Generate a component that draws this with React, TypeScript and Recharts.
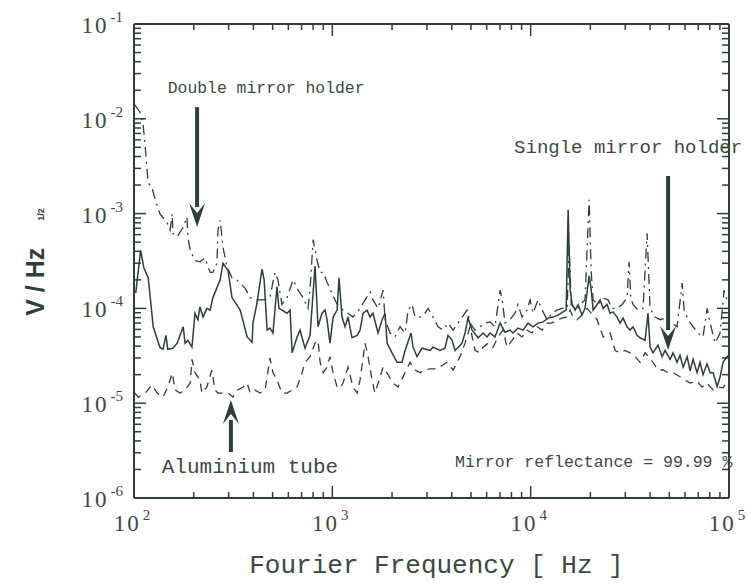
import { LineChart, Line, XAxis, YAxis, ReferenceLine, ReferenceDot } from "recharts"

const INK = "#2f3f33"
const TEXT = "#3a4a40"

// frequency axis ticks (Hz)
const xMajor = [100, 1000, 10000, 100000]
const xMinor = [
  200, 300, 400, 500, 600, 700, 800, 900,
  2000, 3000, 4000, 5000, 6000, 7000, 8000, 9000,
  20000, 30000, 40000, 50000, 60000, 70000, 80000, 90000,
]
// amplitude axis ticks (V/Hz^1/2)
const yMajor = [1e-6, 1e-5, 1e-4, 1e-3, 1e-2, 1e-1]
const yMinor = [
  2e-6, 3e-6, 4e-6, 5e-6, 6e-6, 7e-6, 8e-6, 9e-6,
  2e-5, 3e-5, 4e-5, 5e-5, 6e-5, 7e-5, 8e-5, 9e-5,
  2e-4, 3e-4, 4e-4, 5e-4, 6e-4, 7e-4, 8e-4, 9e-4,
  2e-3, 3e-3, 4e-3, 5e-3, 6e-3, 7e-3, 8e-3, 9e-3,
  2e-2, 3e-2, 4e-2, 5e-2, 6e-2, 7e-2, 8e-2, 9e-2,
]

// single mirror holder (solid)
const singleFreq = [
  102, 108, 112, 118, 125, 135, 140, 145, 148, 157, 165, 177, 181, 187, 196, 203, 210, 215, 223, 233,
  242, 250, 272, 281, 298, 312, 343, 372, 394, 398, 417, 442, 453, 469, 485, 502, 526, 538, 557, 591,
  612, 627, 664, 687, 728, 772, 818, 847, 887, 919, 940, 973, 1009, 1057, 1081, 1119, 1159, 1200, 1257, 1334,
  1380, 1429, 1496, 1549, 1603, 1700, 1782, 1845, 1888, 2000, 2120, 2246, 2327, 2494, 2553, 2673, 2833, 3110, 3221, 3491,
  3700, 3830, 4018, 4159, 4508, 4667, 4831, 5070, 5433, 5754, 6026, 6237, 6607, 7015, 7430, 7870, 8150, 8630, 9160, 9700,
  10280, 10890, 11560, 12250, 12970, 13740, 14560, 15100, 15450, 15810, 16180, 16750, 17340, 18160, 18800, 19710, 20180, 20650, 21630, 22390,
  23190, 24290, 25140, 26040, 27280, 28240, 29240, 30630, 31700, 32820, 34400, 35620, 37740, 39070, 39990, 41400, 43850, 46000, 47640, 50470,
  52240, 54700, 56620, 58750, 61500, 63680, 65920, 69020, 71450, 73960, 77450, 80340, 83180, 87100, 90190, 93330, 97720, 100000,
]
const singleVal = [
  1.45e-4, 4.1e-4, 2.7e-4, 2.1e-4, 6.4e-5, 3.9e-5, 3.7e-5, 5.2e-5, 3.7e-5, 3.8e-5, 4.3e-5, 6.4e-5, 4.3e-5, 4.6e-5, 3.9e-5, 8.9e-5, 7.6e-5, 1.04e-4, 8.1e-5, 1.0e-4,
  9.6e-5, 1.3e-4, 2.0e-4, 3.0e-4, 2.5e-4, 1.3e-4, 9.6e-5, 5.0e-5, 4.4e-5, 7.0e-5, 1.14e-4, 2.6e-4, 2.0e-4, 5.9e-5, 6.2e-5, 5.5e-5, 1.7e-4, 1.0e-4, 9.6e-5, 8.9e-5,
  9.6e-5, 3.4e-5, 5.0e-5, 5.9e-5, 3.8e-5, 5.2e-5, 2.8e-4, 6.4e-5, 8.9e-5, 9.6e-5, 7.6e-5, 4.3e-5, 8.1e-5, 9.6e-5, 2.1e-4, 8.1e-5, 6.4e-5, 8.1e-5, 4.9e-5, 5.2e-5,
  5.9e-5, 8.9e-5, 9.6e-5, 8.1e-5, 8.9e-5, 5.5e-5, 7.6e-5, 8.9e-5, 4.3e-5, 3.4e-5, 2.7e-5, 2.7e-5, 3.6e-5, 5.5e-5, 3.9e-5, 3.1e-5, 3.8e-5, 3.6e-5, 3.9e-5, 3.6e-5,
  3.8e-5, 5.2e-5, 4.6e-5, 3.6e-5, 4.3e-5, 5.5e-5, 7.9e-5, 5.9e-5, 4.9e-5, 5.5e-5, 5.0e-5, 5.5e-5, 5.0e-5, 7.0e-5, 5.6e-5, 5.9e-5, 5.5e-5, 6.2e-5, 5.9e-5, 7.0e-5,
  6.4e-5, 7.0e-5, 7.2e-5, 7.9e-5, 8.1e-5, 8.5e-5, 9.2e-5, 9.6e-5, 1.1e-3, 1.6e-4, 1.1e-4, 9.6e-5, 1.09e-4, 8.5e-5, 1.0e-4, 2.2e-4, 1.6e-4, 9.6e-5, 1.1e-4, 1.23e-4,
  1.0e-4, 1.1e-4, 8.9e-5, 9.2e-5, 8.1e-5, 7.0e-5, 7.9e-5, 6.4e-5, 5.9e-5, 6.4e-5, 5.2e-5, 4.9e-5, 4.6e-5, 8.9e-5, 3.9e-5, 3.4e-5, 4.1e-5, 3.1e-5, 3.6e-5, 2.9e-5,
  3.4e-5, 2.7e-5, 3.2e-5, 2.4e-5, 3.1e-5, 2.2e-5, 2.9e-5, 2.1e-5, 2.7e-5, 2.0e-5, 2.6e-5, 2.1e-5, 2.1e-5, 1.5e-5, 1.9e-5, 2.7e-5, 3.1e-5, 3.2e-5,
]

// double mirror holder (dash-dot)
const doubleFreq = [
  101, 107, 111, 114, 116, 118, 123, 128, 135, 147, 152, 156, 157, 165, 171, 177, 185, 187, 192, 203,
  215, 228, 242, 250, 262, 265, 272, 281, 295, 312, 330, 363, 385, 417, 447, 485, 513, 532, 557, 591,
  634, 672, 712, 754, 772, 800, 838, 868, 899, 940, 995, 1057, 1132, 1200, 1271, 1380, 1462, 1549, 1603, 1700,
  1803, 1845, 1954, 2070, 2194, 2327, 2410, 2523, 2612, 2767, 2931, 3040, 3221, 3412, 3614, 3830, 4064, 4775, 4946, 5248,
  5559, 5888, 6237, 6607, 7015, 7178, 7430, 7870, 8340, 8630, 9050, 9590, 9930, 10280, 10890, 11430, 12100, 12820, 13580, 14390,
  15280, 15630, 16000, 17140, 17750, 18800, 19710, 20180, 20650, 21880, 23190, 24550, 25700, 27280, 28900, 30630, 31330, 32000, 32820, 34800,
  36870, 38640, 39990, 42360, 44980, 47640, 51640, 54700, 58070, 59400, 62230, 65920, 69820, 73960, 77620, 80340, 85110, 90190, 94410, 97720,
  100000,
]
const doubleVal = [
  1.4e-2, 1.18e-2, 9.0e-3, 5.0e-3, 3.1e-3, 2.1e-3, 1.9e-3, 1.4e-3, 1.0e-3, 8.0e-4, 6.7e-4, 1.0e-3, 6.2e-4, 5.7e-4, 6.4e-4, 7.2e-4, 9.2e-4, 5.7e-4, 4.1e-4, 3.2e-4,
  3.1e-4, 3.4e-4, 2.4e-4, 2.4e-4, 3.0e-4, 6.7e-4, 8.5e-4, 4.4e-4, 2.7e-4, 2.1e-4, 2.0e-4, 1.64e-4, 1.3e-4, 1.23e-4, 1.23e-4, 1.3e-4, 2.4e-4, 2.0e-4, 1.1e-4, 1.3e-4,
  2.0e-4, 1.56e-4, 1.3e-4, 1.0e-4, 1.56e-4, 5.3e-4, 3.2e-4, 2.4e-4, 2.4e-4, 1.9e-4, 1.45e-4, 1.1e-4, 9.6e-5, 8.9e-5, 8.1e-5, 1.0e-4, 1.23e-4, 1.49e-4, 1.23e-4, 1.0e-4,
  1.56e-4, 7.6e-5, 5.5e-5, 5.0e-5, 6.4e-5, 5.5e-5, 9.6e-5, 1.1e-4, 8.1e-5, 8.1e-5, 8.9e-5, 1.0e-4, 8.1e-5, 6.4e-5, 5.9e-5, 7.0e-5, 5.9e-5, 9.6e-5, 7.0e-5, 5.9e-5,
  6.4e-5, 7.0e-5, 7.2e-5, 6.4e-5, 1.56e-4, 1.23e-4, 7.0e-5, 7.6e-5, 8.9e-5, 1.1e-4, 8.1e-5, 9.6e-5, 1.23e-4, 8.9e-5, 1.23e-4, 9.6e-5, 7.6e-5, 8.9e-5, 9.6e-5, 1.0e-4,
  1.0e-4, 4.7e-4, 1.1e-4, 9.6e-5, 1.1e-4, 1.23e-4, 1.4e-3, 2.5e-4, 1.23e-4, 1.1e-4, 1.29e-4, 1.23e-4, 1.0e-4, 1.0e-4, 1.1e-4, 1.3e-4, 3.1e-4, 1.3e-4, 1.1e-4, 9.6e-5,
  1.0e-4, 6.2e-4, 1.0e-4, 8.1e-5, 7.6e-5, 7.9e-5, 7.0e-5, 6.4e-5, 1.85e-4, 9.6e-5, 7.6e-5, 6.4e-5, 5.5e-5, 5.0e-5, 1.0e-4, 7.0e-5, 4.3e-5, 5.5e-5, 1.56e-4, 1.23e-4,
  1.4e-4,
]

// aluminium tube (dashed)
const tubeFreq = [
  101, 105, 114, 123, 131, 140, 148, 156, 161, 171, 181, 192, 196, 203, 215, 220, 233, 247, 256, 265,
  281, 298, 315, 334, 355, 372, 385, 407, 432, 458, 469, 485, 502, 526, 557, 591, 627, 664, 704, 728,
  772, 818, 847, 868, 899, 940, 973, 1009, 1057, 1094, 1132, 1200, 1271, 1334, 1380, 1462, 1514, 1585, 1641, 1742,
  1803, 1910, 2023, 2143, 2327, 2466, 2612, 2767, 2931, 3110, 3373, 3573, 3784, 4064, 4406, 4667, 4946, 5248, 5559, 5754,
  6095, 6457, 6850, 7260, 7600, 8054, 8530, 9050, 9590, 10160, 10770, 11430, 12100, 12820, 13580, 14390, 15280, 15810, 16370, 17140,
  17750, 18370, 19230, 21630, 23190, 25140, 26660, 28240, 29920, 31700, 33640, 35620, 37740, 39070, 41400, 43850, 46550, 49320, 52240, 56620,
  60100, 63680, 69020, 73120, 77450, 83180, 88100, 93330, 98800,
]
const tubeVal = [
  1.28e-5, 1.16e-5, 1.28e-5, 1.56e-5, 1.28e-5, 1.16e-5, 1.48e-5, 2.08e-5, 1.38e-5, 1.28e-5, 1.38e-5, 1.63e-5, 2.9e-5, 2.1e-5, 1.76e-5, 1.28e-5, 1.48e-5, 2.24e-5, 1.38e-5, 1.28e-5,
  1.28e-5, 1.28e-5, 1.16e-5, 1.38e-5, 1.48e-5, 1.63e-5, 1.28e-5, 1.38e-5, 1.28e-5, 1.38e-5, 1.9e-5, 3.0e-5, 2.1e-5, 1.76e-5, 1.28e-5, 1.28e-5, 1.38e-5, 1.48e-5, 2.1e-5, 2.7e-5,
  3.1e-5, 4.3e-5, 4.6e-5, 2.7e-5, 2.1e-5, 2.4e-5, 3.1e-5, 2.1e-5, 1.48e-5, 1.45e-5, 1.63e-5, 2.4e-5, 1.48e-5, 1.28e-5, 1.76e-5, 4.3e-5, 3.1e-5, 1.76e-5, 1.28e-5, 1.9e-5,
  2.4e-5, 2.0e-5, 1.63e-5, 1.48e-5, 2.1e-5, 2.7e-5, 2.24e-5, 2.1e-5, 2.24e-5, 2.3e-5, 2.3e-5, 2.5e-5, 2.7e-5, 2.24e-5, 3.1e-5, 4.3e-5, 6.4e-5, 3.6e-5, 3.4e-5, 3.9e-5,
  4.3e-5, 3.9e-5, 5.0e-5, 5.9e-5, 3.9e-5, 4.6e-5, 5.5e-5, 5.0e-5, 5.9e-5, 5.5e-5, 6.4e-5, 5.9e-5, 7.0e-5, 7.0e-5, 7.6e-5, 7.9e-5, 8.1e-5, 9.6e-5, 8.1e-5, 7.6e-5,
  8.1e-5, 8.9e-5, 1.0e-4, 7.6e-5, 5.0e-5, 5.5e-5, 3.6e-5, 3.4e-5, 3.6e-5, 3.4e-5, 3.1e-5, 2.7e-5, 3.4e-5, 3.1e-5, 2.7e-5, 2.24e-5, 2.24e-5, 2.1e-5, 2.1e-5, 1.9e-5,
  1.76e-5, 1.63e-5, 1.7e-5, 1.48e-5, 1.63e-5, 1.38e-5, 1.48e-5, 1.45e-5, 1.76e-5,
]

const toPoints = (fs: number[], vs: number[]) => fs.map((f, i) => ({ f, v: vs[i] }))
const singleData = toPoints(singleFreq, singleVal)
const doubleData = toPoints(doubleFreq, doubleVal)
const tubeData = toPoints(tubeFreq, tubeVal)

const xTicks = [...xMajor, ...xMinor].sort((a, b) => a - b)
const yTicks = [...yMajor, ...yMinor].sort((a, b) => a - b)

const isMajor = (v: number) => Math.abs(Math.log10(v) - Math.round(Math.log10(v))) < 1e-6
const expOf = (v: number) => Math.round(Math.log10(v))

const tickFont = "'Liberation Serif', serif"
const monoFont = "'Liberation Mono', monospace"

function BottomTick({ x, y, payload }: any) {
  const major = isMajor(payload.value)
  return (
    <g>
      <line x1={x} x2={x} y1={y} y2={y - (major ? 12 : 6)} stroke={INK} strokeWidth={1.5} />
      {major && (
        <text x={x - 2} y={y + 33} textAnchor="middle" fill={TEXT} fontFamily={tickFont} fontSize={23} letterSpacing={2}>
          10
          <tspan dx={2} dy={-11} fontSize={15} letterSpacing={0}>{expOf(payload.value)}</tspan>
        </text>
      )}
    </g>
  )
}

function TopTick({ x, y, payload }: any) {
  const major = isMajor(payload.value)
  return <line x1={x} x2={x} y1={y} y2={y + (major ? 12 : 6)} stroke={INK} strokeWidth={1.5} />
}

function LeftTick({ x, y, payload }: any) {
  const major = isMajor(payload.value)
  return (
    <g>
      <line x1={x} x2={x + (major ? 12 : 7)} y1={y} y2={y} stroke={INK} strokeWidth={1.5} />
      {major && (
        <text x={x - 11} y={y + 9} textAnchor="end" fill={TEXT} fontFamily={tickFont} fontSize={23} letterSpacing={2}>
          10
          <tspan dx={2} dy={-11} fontSize={15} letterSpacing={0}>{expOf(payload.value)}</tspan>
        </text>
      )}
    </g>
  )
}

function RightTick({ x, y, payload }: any) {
  const major = isMajor(payload.value)
  return <line x1={x} x2={x - (major ? 12 : 7)} y1={y} y2={y} stroke={INK} strokeWidth={1.5} />
}

// arrow drawn along a reference segment, head at the second point
const arrowShape = (props: any) => {
  const { x1, y1, x2, y2 } = props
  const dir = y2 > y1 ? 1 : -1
  const head = 20
  return (
    <g>
      <line x1={x1} y1={y1} x2={x2} y2={y2 - dir * head} stroke={INK} strokeWidth={4} />
      <path
        d={`M${x2 - 8},${y2 - dir * (head + 4)} L${x2},${y2 - dir * (head - 6)} L${x2 + 8},${y2 - dir * (head + 4)} L${x2},${y2} Z`}
        fill={INK}
      />
    </g>
  )
}

const noteShape = (text: string, size: number) => (props: any) => (
  <text x={props.cx} y={props.cy} fill={TEXT} fontFamily={monoFont} fontSize={size}>
    {text}
  </text>
)

const axisLine = { stroke: INK, strokeWidth: 2 }

export default function App() {
  return (
    <div style={{ position: "absolute", left: 0, top: 0, width: 748, height: 585, background: "#fff" }}>
      <LineChart width={748} height={585} margin={{ top: 23, right: 18, bottom: 0, left: 0 }}>
        <XAxis
          xAxisId="b"
          type="number"
          dataKey="f"
          scale="log"
          domain={[100, 100000]}
          allowDataOverflow
          ticks={xTicks}
          interval={0}
          tickSize={0}
          tickMargin={0}
          tickLine={false}
          tick={BottomTick}
          axisLine={axisLine}
          height={87}
          label={{
            content: ({ viewBox }: any) => (
              <text
                x={viewBox.x + viewBox.width / 2 + 5}
                y={viewBox.y + 75}
                textAnchor="middle"
                fill={TEXT}
                fontFamily={monoFont}
                fontSize={26}
              >
                Fourier Frequency [ Hz ]
              </text>
            ),
          }}
        />
        <XAxis
          xAxisId="t"
          orientation="top"
          type="number"
          dataKey="f"
          scale="log"
          domain={[100, 100000]}
          allowDataOverflow
          ticks={xTicks}
          interval={0}
          tickSize={0}
          tickMargin={0}
          tickLine={false}
          tick={TopTick}
          axisLine={axisLine}
          height={1}
        />
        <YAxis
          yAxisId="l"
          type="number"
          scale="log"
          domain={[1e-6, 1e-1]}
          allowDataOverflow
          ticks={yTicks}
          interval={0}
          tickSize={0}
          tickMargin={0}
          tickLine={false}
          tick={LeftTick}
          axisLine={axisLine}
          width={134}
          label={{
            content: () => (
              <text
                transform="rotate(-90 44 262)"
                x={44}
                y={262}
                textAnchor="middle"
                fill={INK}
                fontFamily="'Liberation Sans', Arial, sans-serif"
                fontWeight="bold"
                fontSize={25}
              >
                V / Hz
                <tspan dx={27} dy={0} fontSize={9}>
                  1/2
                </tspan>
              </text>
            ),
          }}
        />
        <YAxis
          yAxisId="r"
          orientation="right"
          type="number"
          scale="log"
          domain={[1e-6, 1e-1]}
          allowDataOverflow
          ticks={yTicks}
          interval={0}
          tickSize={0}
          tickMargin={0}
          tickLine={false}
          tick={RightTick}
          axisLine={axisLine}
          width={1}
        />

        <Line
          data={doubleData}
          dataKey="v"
          xAxisId="b"
          yAxisId="l"
          type="linear"
          stroke={INK}
          strokeWidth={1.3}
          strokeDasharray="10 5 2 5"
          dot={false}
          isAnimationActive={false}
        />
        <Line
          data={tubeData}
          dataKey="v"
          xAxisId="b"
          yAxisId="l"
          type="linear"
          stroke={INK}
          strokeWidth={1.3}
          strokeDasharray="8 6"
          dot={false}
          isAnimationActive={false}
        />
        <Line
          data={singleData}
          dataKey="v"
          xAxisId="b"
          yAxisId="l"
          type="linear"
          stroke={INK}
          strokeWidth={1.5}
          dot={false}
          isAnimationActive={false}
        />

        <ReferenceLine
          xAxisId="b"
          yAxisId="l"
          segment={[{ x: 208, y: 1.33e-2 }, { x: 208, y: 7.2e-4 }]}
          shape={arrowShape}
        />
        <ReferenceLine
          xAxisId="b"
          yAxisId="l"
          segment={[{ x: 49300, y: 2.49e-3 }, { x: 49300, y: 3.64e-5 }]}
          shape={arrowShape}
        />
        <ReferenceLine
          xAxisId="b"
          yAxisId="l"
          segment={[{ x: 308, y: 3.05e-6 }, { x: 308, y: 1.08e-5 }]}
          shape={arrowShape}
        />

        <ReferenceDot xAxisId="b" yAxisId="l" x={148} y={1.87e-2} r={0} shape={noteShape("Double mirror holder", 16.4)} />
        <ReferenceDot xAxisId="b" yAxisId="l" x={8250} y={4.36e-3} r={0} shape={noteShape("Single mirror holder", 19)} />
        <ReferenceDot xAxisId="b" yAxisId="l" x={138} y={1.84e-6} r={0} shape={noteShape("Aluminium tube", 21)} />
        <ReferenceDot xAxisId="b" yAxisId="l" x={4157} y={2.12e-6} r={0} shape={noteShape("Mirror reflectance = 99.99 %", 16.5)} />
      </LineChart>
    </div>
  )
}
